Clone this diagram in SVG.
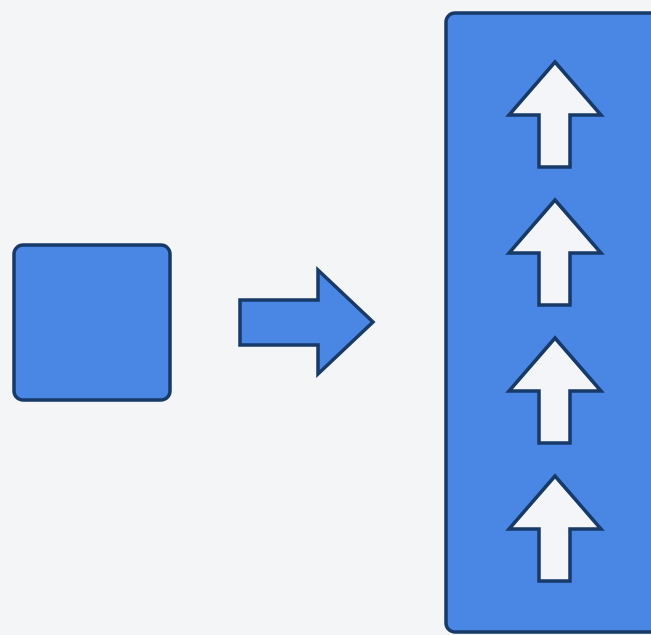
<svg xmlns="http://www.w3.org/2000/svg" width="651" height="635" viewBox="0 0 651 635">
<defs>
<style>
.blue{fill:#4a86e3;stroke:#173a68;stroke-width:3.5;stroke-linejoin:miter}
.up{fill:#f3f5f8;stroke:#173a68;stroke-width:3.5;stroke-linejoin:miter}
</style>
<path id="uparrow" class="up" d="M0 0 L46 53 L15 53 L15 105 L-16 105 L-16 53 L-46 53 Z"/>
</defs>
<rect width="651" height="635" fill="#f3f5f7"/>
<g id="source"><rect class="blue" x="14" y="245" width="156" height="155" rx="9"/></g>
<g id="connectors"><path class="blue" d="M240 300 L318 300 L318 270 L373 322 L318 374 L318 345 L240 345 Z"/></g>
<g id="target">
<rect class="blue" x="446" y="13" width="220" height="619" rx="9"/>
<use href="#uparrow" x="555" y="62"/>
<use href="#uparrow" x="555" y="200"/>
<use href="#uparrow" x="555" y="338"/>
<use href="#uparrow" x="555" y="476"/>
</g>
</svg>
